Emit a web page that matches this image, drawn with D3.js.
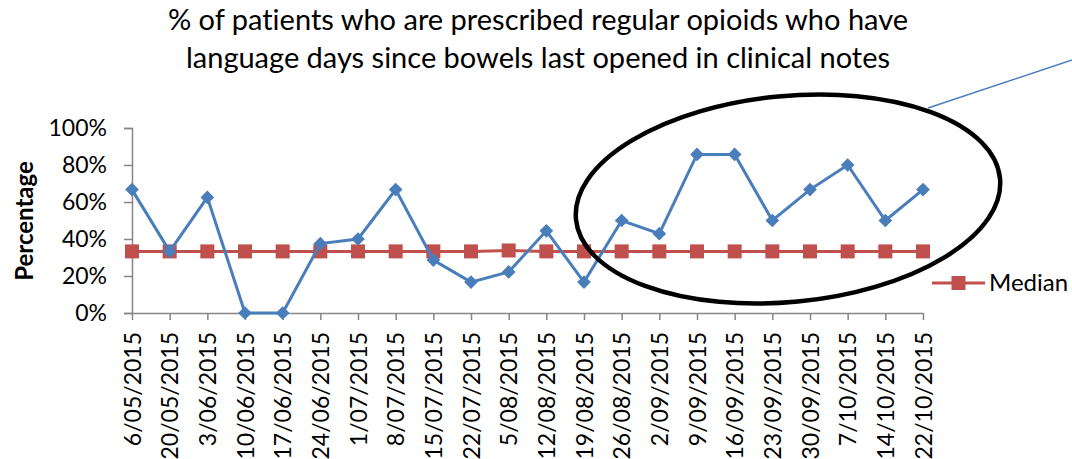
<!DOCTYPE html>
<html><head><meta charset="utf-8">
<script src="https://cdn.jsdelivr.net/npm/d3@7"></script>
<style>body{margin:0;background:#fff}svg{display:block}text{font-family:Lato,"Open Sans",sans-serif;fill:#000;font-variant-ligatures:none}</style>
</head><body><svg id="c" width="1072" height="459"></svg>
<script>
const categories = ["6/05/2015","20/05/2015","3/06/2015","10/06/2015","17/06/2015","24/06/2015","1/07/2015","8/07/2015","15/07/2015","22/07/2015","5/08/2015","12/08/2015","19/08/2015","26/08/2015","2/09/2015","9/09/2015","16/09/2015","23/09/2015","30/09/2015","7/10/2015","14/10/2015","22/10/2015"];
const percentValues = [66.7,33.3,62.5,0,0,37.5,40,66.7,28.6,16.7,22.2,44.4,16.7,50,42.9,85.7,85.7,50,66.7,80,50,66.7];
const medianValues = [33.3,33.3,33.3,33.3,33.3,33.3,33.3,33.3,33.3,33.3,33.8,33.3,33.3,33.3,33.3,33.3,33.3,33.3,33.3,33.3,33.3,33.3];
const yTicks = [0,20,40,60,80,100];
const titleLines = ["% of patients who are prescribed regular opioids who have","language days since bowels last opened in clinical notes"];

const svg = d3.select("#c");
const x = d3.scalePoint().domain(categories).range([132, 923]);
const y = d3.scaleLinear().domain([0,100]).range([313, 128]);
const axisColor = "#868686";
const FONT = "Lato,'Open Sans',sans-serif";

// title
svg.append("g").selectAll("text").data(titleLines).join("text")
  .attr("x", 538).attr("y", (d,i)=>30+i*38).attr("text-anchor","middle")
  .style("font-size","29px").text(d=>d);

// y axis
const ya = svg.append("g").attr("transform","translate(132,0)")
  .call(d3.axisLeft(y).tickValues(yTicks).tickFormat(d=>d+"%").tickSize(8).tickPadding(17));
ya.select(".domain").attr("stroke",axisColor).attr("stroke-width",1.5);
ya.selectAll(".tick line").attr("stroke",axisColor).attr("stroke-width",1.5);
ya.selectAll(".tick text").style("font-size","23px").style("font-family",FONT).attr("fill","#000");

// x axis
const xa = svg.append("g").attr("transform","translate(0,313)")
  .call(d3.axisBottom(x).tickSize(7).tickPadding(5).tickSizeOuter(0));
xa.select(".domain").attr("stroke",axisColor).attr("stroke-width",1.5);
xa.selectAll(".tick line").attr("stroke",axisColor).attr("stroke-width",1.5);
xa.selectAll(".tick text").style("font-size","23px").style("font-family",FONT).attr("fill","#000")
  .attr("transform","rotate(-90)").attr("text-anchor","end").attr("dy","0.35em").attr("x",-19).attr("y",0);

// y label
svg.append("text").attr("transform","translate(33,221) rotate(-90)").attr("text-anchor","middle")
  .style("font-size","24px").style("font-weight","bold").text("Percentage");

// median series
const line = d3.line().x((d,i)=>x(categories[i])).y(d=>y(d));
svg.append("path").datum(medianValues).attr("d",line).attr("fill","none").attr("stroke","#c0504d").attr("stroke-width",3);
svg.append("g").selectAll("rect").data(medianValues).join("rect")
  .attr("x",(d,i)=>x(categories[i])-7).attr("y",d=>y(d)-7).attr("width",14).attr("height",14).attr("fill","#c0504d");

// percent series
svg.append("path").datum(percentValues).attr("d",line).attr("fill","none").attr("stroke","#4a7ebb").attr("stroke-width",3);
svg.append("g").selectAll("path").data(percentValues).join("path")
  .attr("d",d3.symbol().type(d3.symbolDiamond2).size(120))
  .attr("transform",(d,i)=>`translate(${x(categories[i])},${y(d)})`).attr("fill","#4a7ebb");

// legend
const lg = svg.append("g").attr("transform","translate(932,283)");
lg.append("line").attr("x1",0).attr("x2",53).attr("stroke","#c0504d").attr("stroke-width",3);
lg.append("rect").attr("x",19.5).attr("y",-7).attr("width",14).attr("height",14).attr("fill","#c0504d");
lg.append("text").attr("x",57).attr("y",0).attr("dy","0.35em").style("font-size","24px").text("Median");

// annotation ellipse and callout
svg.append("ellipse").attr("cx",788).attr("cy",199).attr("rx",213).attr("ry",103)
  .attr("transform","rotate(-5.5,788,199)").attr("fill","none").attr("stroke","#000").attr("stroke-width",4.5);
svg.append("line").attr("x1",928).attr("y1",108).attr("x2",1072).attr("y2",60).attr("stroke","#4a7ebb").attr("stroke-width",1.5);
</script></body></html>
